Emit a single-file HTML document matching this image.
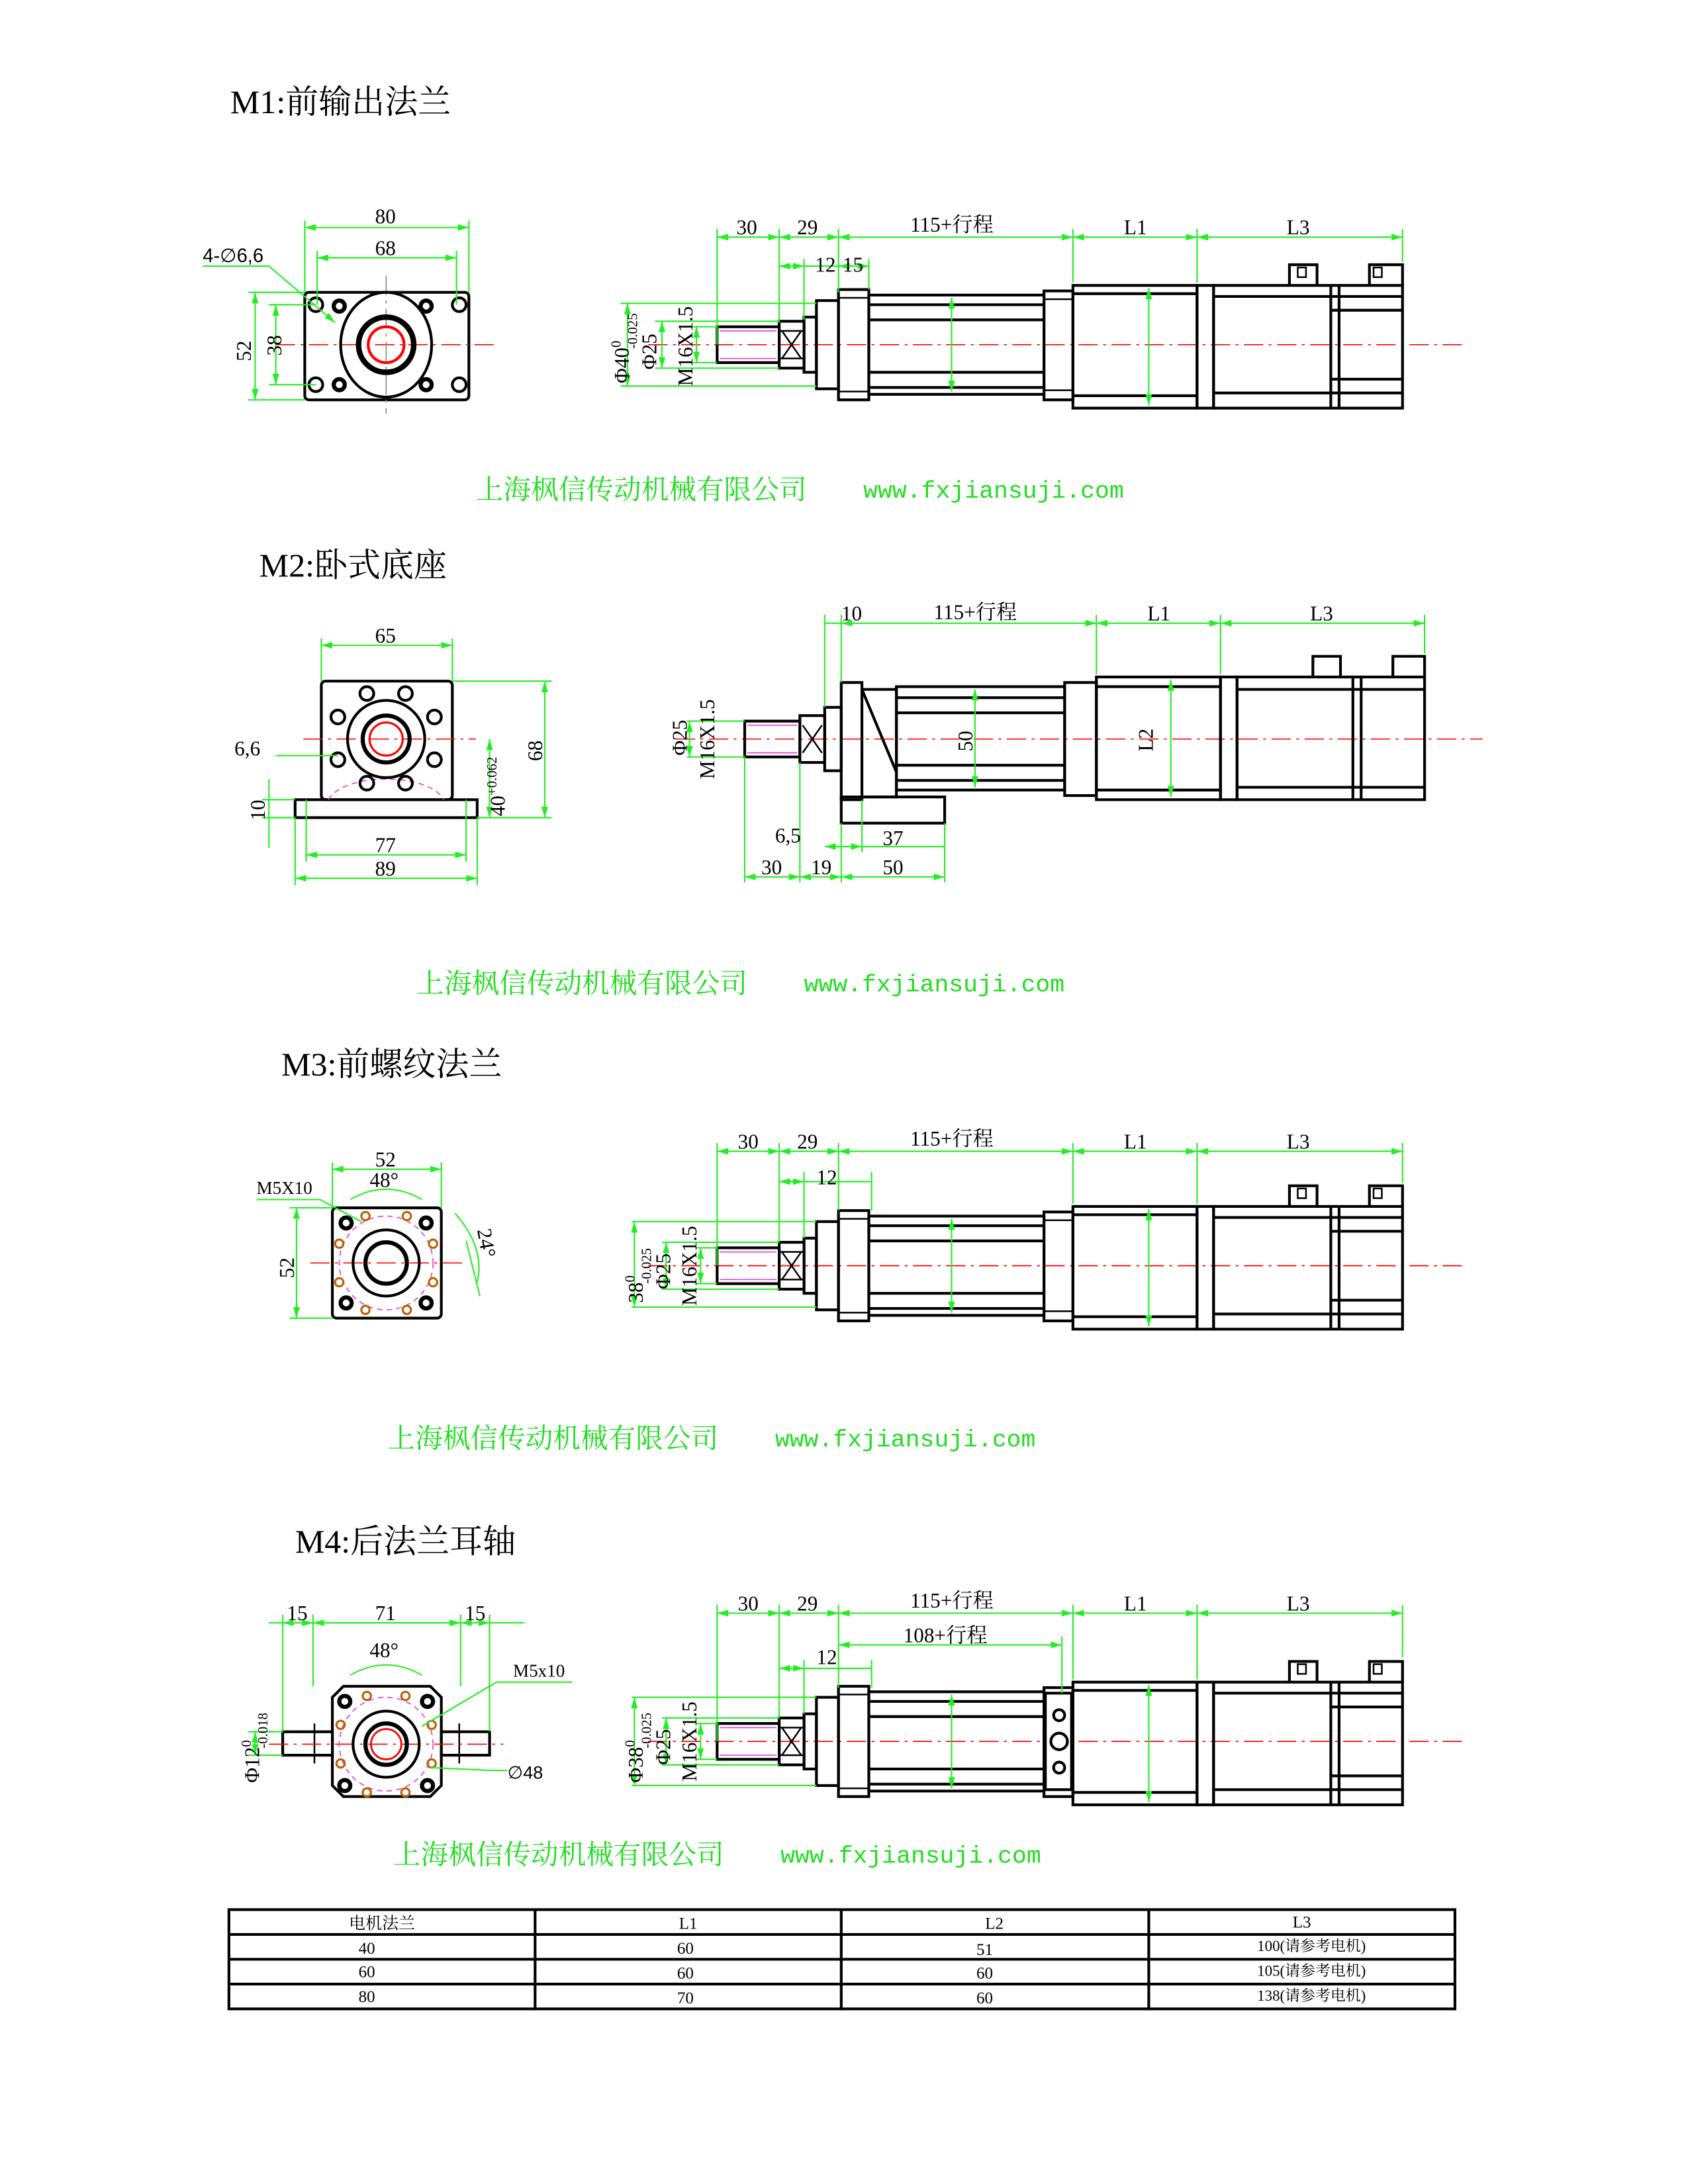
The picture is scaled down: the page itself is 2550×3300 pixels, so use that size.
<!DOCTYPE html>
<html><head><meta charset="utf-8"><style>
html,body{margin:0;padding:0;background:#fff}
svg{display:block}
text{font-family:"Liberation Serif","Noto Serif CJK SC",serif}
.k{fill:none;stroke:#000;stroke-width:2}
.kt{fill:none;stroke:#000;stroke-width:1.2}
.g{fill:none;stroke:#22ee22;stroke-width:1}
.r{fill:none;stroke:#f00;stroke-width:0.8;stroke-dasharray:14 4 2 4}
.m{stroke:#e040e0;stroke-width:0.8}
.t{font-size:15px;fill:#000}
.s{font-size:12px;fill:#000}
.h{font-size:24px;fill:#000}
.w{font-size:20px;fill:#22dd22}
.u{font-family:"Liberation Mono",monospace;font-size:17.5px;fill:#22dd22}
</style></head><body>
<svg width="2550" height="3300" viewBox="0 0 1224 1584" xmlns="http://www.w3.org/2000/svg">
<defs>
<marker id="a" viewBox="0 0 10 10" refX="10" refY="5" markerWidth="8" markerHeight="8" orient="auto-start-reverse"><path d="M0,2 L10,5 L0,8z" fill="#22ee22"/></marker>
<g id="side">
 <line class="r" x1="470" y1="0" x2="1060" y2="0"/>
 <rect class="k" x="520" y="-13" width="45" height="26"/>
 <line class="m" x1="522" y1="-10" x2="563" y2="-10"/><line class="m" x1="522" y1="10" x2="563" y2="10"/>
 <rect class="k" x="565" y="-17" width="18" height="34"/>
 <path class="kt" d="M567,-10 L581,10 M567,10 L581,-10 M565,-10 H583 M565,10 H583"/>
 <rect class="k" x="583" y="-20" width="9" height="40"/>
 <rect class="k" x="592" y="-32" width="16" height="64"/>
 <rect class="k" x="608" y="-40" width="22" height="80"/>
 <path class="kt" d="M608,-34 H630 M608,34 H630"/>
 <rect class="k" x="630" y="-36" width="127" height="72"/>
 <path class="k" d="M630,-29 H757 M630,-18 H757 M630,20 H757 M630,31 H757"/>
 <rect class="k" x="757" y="-39" width="21" height="79"/>
 <path class="kt" d="M757,-33 H778 M757,33 H778"/>
 <rect class="k" x="778" y="-43" width="90" height="89"/>
 <path class="k" d="M778,-37 H868 M778,37 H868"/>
 <rect class="k" x="868" y="-43" width="12" height="89"/>
 <rect class="k" x="880" y="-43" width="137" height="89"/>
 <path class="k" d="M880,-35 H1017 M880,35 H1017 M965,-43 V46 M971,-43 V46 M965,-25 H1017 M965,25 H1017"/>
 <path class="k" d="M935,-43 V-58 H955 V-43 M993,-43 V-58 H1017 V-43"/>
 <rect class="kt" x="941" y="-56" width="6" height="7"/><rect class="kt" x="996" y="-56" width="6" height="7"/>
 <line class="g" x1="690" y1="-34" x2="690" y2="34" marker-start="url(#a)" marker-end="url(#a)"/>
 <line class="g" x1="833" y1="-41" x2="833" y2="44" marker-start="url(#a)" marker-end="url(#a)"/>
</g>
</defs>

<!-- M1 -->
<text class="h" x="167" y="82">M1:前输出法兰</text>
<rect class="k" x="221" y="212" width="119" height="78" rx="3"/>
<line class="r" x1="200" y1="250" x2="362" y2="250"/><line class="r" x1="280" y1="200" x2="280" y2="300" style="stroke:#888"/>
<g class="k"><circle cx="229" cy="221" r="5"/><circle cx="333" cy="221" r="5"/><circle cx="229" cy="279" r="5"/><circle cx="333" cy="279" r="5"/></g>
<g class="k" style="stroke-width:3"><circle cx="246" cy="222" r="4"/><circle cx="309" cy="222" r="4"/><circle cx="246" cy="279" r="4"/><circle cx="309" cy="279" r="4"/></g>
<ellipse class="k" cx="280" cy="250" rx="33" ry="38"/>
<circle class="k" cx="280" cy="250" r="20" style="stroke-width:4"/>
<circle cx="280" cy="250" r="13" fill="none" stroke="#f00" stroke-width="2"/>
<line class="g" x1="221" y1="165" x2="340" y2="165" marker-start="url(#a)" marker-end="url(#a)"/>
<line class="g" x1="230" y1="187" x2="331" y2="187" marker-start="url(#a)" marker-end="url(#a)"/>
<path class="g" d="M221,160 V212 M340,160 V212 M230,182 V221 M331,182 V221"/>
<text class="t" x="272" y="162">80</text><text class="t" x="272" y="185">68</text>
<line class="g" x1="185" y1="212" x2="185" y2="290" marker-start="url(#a)" marker-end="url(#a)"/>
<line class="g" x1="200" y1="221" x2="200" y2="279" marker-start="url(#a)" marker-end="url(#a)"/>
<path class="g" d="M180,212 H221 M180,290 H221 M195,221 H229 M195,279 H229"/>
<text class="t" transform="translate(182,262) rotate(-90)">52</text><text class="t" transform="translate(204,258) rotate(-90)">38</text>
<text class="t" x="147" y="190" style="font-family:'Liberation Sans',sans-serif;font-size:14px">4-∅6,6</text>
<path class="g" d="M147,193 H195 L243,234" marker-end="url(#a)"/>

<use href="#side" y="250"/>
<path class="g" d="M520,166 V250 M565,166 V234 M608,166 V212 M778,166 V205 M868,166 V205 M1017,166 V190 M583,188 V232 M630,188 V210"/>
<line class="g" x1="520" y1="172" x2="565" y2="172" marker-start="url(#a)" marker-end="url(#a)"/>
<line class="g" x1="565" y1="172" x2="608" y2="172" marker-start="url(#a)" marker-end="url(#a)"/>
<line class="g" x1="608" y1="172" x2="778" y2="172" marker-start="url(#a)" marker-end="url(#a)"/>
<line class="g" x1="778" y1="172" x2="868" y2="172" marker-start="url(#a)" marker-end="url(#a)"/>
<line class="g" x1="868" y1="172" x2="1017" y2="172" marker-start="url(#a)" marker-end="url(#a)"/>
<text class="t" x="534" y="170">30</text><text class="t" x="578" y="170">29</text><text class="t" x="660" y="168">115+行程</text><text class="t" x="815" y="170">L1</text><text class="t" x="933" y="170">L3</text>
<line class="g" x1="565" y1="193" x2="583" y2="193" marker-start="url(#a)" marker-end="url(#a)"/>
<line class="g" x1="608" y1="193" x2="630" y2="193" marker-start="url(#a)" marker-end="url(#a)"/>
<line class="g" x1="583" y1="193" x2="608" y2="193"/>
<text class="t" x="591" y="197">12</text><text class="t" x="611" y="197">15</text>
<path class="g" d="M450,220 H592 M450,280 H592 M475,233 H565 M475,267 H565 M500,237 H520 M500,263 H520"/>
<line class="g" x1="455" y1="220" x2="455" y2="280" marker-start="url(#a)" marker-end="url(#a)"/>
<line class="g" x1="480" y1="233" x2="480" y2="267" marker-start="url(#a)" marker-end="url(#a)"/>
<line class="g" x1="505" y1="237" x2="505" y2="263" marker-start="url(#a)" marker-end="url(#a)"/>
<text class="t" transform="translate(456,278) rotate(-90)">Φ40<tspan font-size="10" dy="-6">0</tspan><tspan font-size="10" dx="-6" dy="12">-0.025</tspan></text>
<text class="t" transform="translate(476,268) rotate(-90)">Φ25</text>
<text class="t" transform="translate(502,280) rotate(-90)">M16X1.5</text>
<text class="w" x="345" y="362">上海枫信传动机械有限公司</text><text class="u" x="626" y="361">www.fxjiansuji.com</text>

<!-- M2 -->
<text class="h" x="188" y="418">M2:卧式底座</text>
<rect class="k" x="233" y="494" width="95" height="86" rx="3"/>
<rect class="k" x="214" y="580" width="132" height="13"/>
<line class="r" x1="220" y1="536" x2="345" y2="536"/>
<path d="M238,580 C250,560 310,560 322,580" fill="none" stroke="#e040e0" stroke-width="0.8" stroke-dasharray="4 3"/>
<g class="k"><circle cx="266" cy="503" r="5"/><circle cx="294" cy="503" r="5"/><circle cx="245" cy="520" r="5"/><circle cx="315" cy="520" r="5"/><circle cx="245" cy="551" r="5"/><circle cx="315" cy="551" r="5"/><circle cx="266" cy="568" r="5"/><circle cx="294" cy="568" r="5"/></g>
<circle class="k" cx="280" cy="536" r="28"/><circle class="k" cx="280" cy="536" r="17" style="stroke-width:3"/>
<circle cx="280" cy="536" r="12" fill="none" stroke="#f00" stroke-width="1.5"/>
<line class="g" x1="233" y1="468" x2="328" y2="468" marker-start="url(#a)" marker-end="url(#a)"/>
<path class="g" d="M233,463 V494 M328,463 V494 M328,494 H400 M346,593 H400 M338,580 V625 M222,580 V625 M214,593 V642 M346,593 V642 M190,580 H214 M190,593 H214 M200,548 H245"/>
<text class="t" x="272" y="466">65</text>
<line class="g" x1="395" y1="494" x2="395" y2="593" marker-start="url(#a)" marker-end="url(#a)"/>
<line class="g" x1="355" y1="536" x2="355" y2="593" marker-start="url(#a)" marker-end="url(#a)"/>
<text class="t" transform="translate(393,552) rotate(-90)">68</text>
<text class="t" transform="translate(366,592) rotate(-90)">40<tspan font-size="10" dy="-6">+0.062</tspan></text>
<line class="g" x1="222" y1="620" x2="338" y2="620" marker-start="url(#a)" marker-end="url(#a)"/>
<line class="g" x1="214" y1="637" x2="346" y2="637" marker-start="url(#a)" marker-end="url(#a)"/>
<text class="t" x="272" y="618">77</text><text class="t" x="272" y="635">89</text>
<line class="g" x1="195" y1="565" x2="195" y2="615"/>
<text class="t" transform="translate(192,595) rotate(-90)">10</text>
<text class="t" x="170" y="548">6,6</text>

<line class="r" x1="490" y1="536" x2="1075" y2="536"/>
<rect class="k" x="540" y="523" width="40" height="26"/>
<line class="m" x1="542" y1="526" x2="578" y2="526"/><line class="m" x1="542" y1="546" x2="578" y2="546"/>
<rect class="k" x="580" y="519" width="18" height="34"/><path class="kt" d="M582,526 L596,546 M582,546 L596,526"/>
<rect class="k" x="598" y="513" width="12" height="46"/>
<rect class="k" x="610" y="495" width="15" height="85"/>
<path class="k" d="M625,500 H650 V578 H625 M625,500 L650,560"/>
<rect class="k" x="610" y="578" width="75" height="19"/>
<rect class="k" x="650" y="498" width="122" height="75"/>
<path class="k" d="M650,506 H772 M650,517 H772 M650,555 H772 M650,566 H772"/>
<rect class="k" x="772" y="495" width="23" height="82"/>
<rect class="k" x="795" y="491" width="90" height="89"/>
<path class="k" d="M795,498 H885 M795,573 H885"/>
<rect class="k" x="885" y="491" width="12" height="89"/>
<rect class="k" x="897" y="491" width="136" height="89"/>
<path class="k" d="M897,500 H1033 M897,571 H1033 M981,491 V580 M987,491 V580 M952,491 V476 H972 V491 M1010,491 V476 H1033 V491"/>
<line class="g" x1="707" y1="500" x2="707" y2="571" marker-start="url(#a)" marker-end="url(#a)"/>
<line class="g" x1="849" y1="493" x2="849" y2="578" marker-start="url(#a)" marker-end="url(#a)"/>
<text class="t" transform="translate(705,545) rotate(-90)">50</text><text class="t" transform="translate(836,545) rotate(-90)">L2</text>
<path class="g" d="M598,446 V513 M610,446 V495 M795,446 V489 M885,446 V489 M1033,446 V474 M540,549 V640 M580,553 V640 M610,597 V640 M685,597 V640 M625,580 V618 M498,523 H540 M498,549 H540"/>
<line class="g" x1="598" y1="452" x2="610" y2="452"/>
<line class="g" x1="610" y1="452" x2="795" y2="452" marker-start="url(#a)" marker-end="url(#a)"/>
<line class="g" x1="795" y1="452" x2="885" y2="452" marker-start="url(#a)" marker-end="url(#a)"/>
<line class="g" x1="885" y1="452" x2="1033" y2="452" marker-start="url(#a)" marker-end="url(#a)"/>
<text class="t" x="610" y="450">10</text><text class="t" x="677" y="449">115+行程</text><text class="t" x="832" y="450">L1</text><text class="t" x="950" y="450">L3</text>
<line class="g" x1="540" y1="636" x2="580" y2="636" marker-start="url(#a)" marker-end="url(#a)"/>
<line class="g" x1="580" y1="636" x2="610" y2="636" marker-start="url(#a)" marker-end="url(#a)"/>
<line class="g" x1="610" y1="636" x2="685" y2="636" marker-start="url(#a)" marker-end="url(#a)"/>
<line class="g" x1="598" y1="614" x2="625" y2="614" marker-start="url(#a)" marker-end="url(#a)"/>
<line class="g" x1="625" y1="614" x2="685" y2="614"/>
<text class="t" x="552" y="634">30</text><text class="t" x="588" y="634">19</text><text class="t" x="640" y="634">50</text>
<text class="t" x="562" y="611">6,5</text><text class="t" x="640" y="613">37</text>
<line class="g" x1="500" y1="523" x2="500" y2="549" marker-start="url(#a)" marker-end="url(#a)"/>
<text class="t" transform="translate(498,548) rotate(-90)">Φ25</text>
<text class="t" transform="translate(518,565) rotate(-90)">M16X1.5</text>
<text class="w" x="302" y="720">上海枫信传动机械有限公司</text><text class="u" x="583" y="719">www.fxjiansuji.com</text>

<!-- M3 -->
<text class="h" x="204" y="780">M3:前螺纹法兰</text>
<rect class="k" x="241" y="876" width="79" height="80" rx="3"/>
<line class="r" x1="225" y1="916" x2="335" y2="916"/>
<circle cx="280" cy="916" r="34" fill="none" stroke="#e040e0" stroke-width="0.8" stroke-dasharray="4 3"/>
<g class="k" style="stroke-width:3"><circle cx="251" cy="887" r="4"/><circle cx="309" cy="887" r="4"/><circle cx="251" cy="945" r="4"/><circle cx="309" cy="945" r="4"/></g>
<g fill="none" stroke="#c06000" stroke-width="1.5"><circle cx="265" cy="882" r="3"/><circle cx="295" cy="882" r="3"/><circle cx="265" cy="950" r="3"/><circle cx="295" cy="950" r="3"/><circle cx="246" cy="902" r="3"/><circle cx="314" cy="902" r="3"/><circle cx="246" cy="930" r="3"/><circle cx="314" cy="930" r="3"/></g>
<circle class="k" cx="280" cy="916" r="24"/><circle class="k" cx="280" cy="916" r="15" style="stroke-width:3"/>
<path class="g" d="M241,843 V876 M320,843 V876 M210,876 H241 M210,956 H241 M338,900 L348,940"/>
<line class="g" x1="241" y1="848" x2="320" y2="848" marker-start="url(#a)" marker-end="url(#a)"/>
<line class="g" x1="215" y1="876" x2="215" y2="956" marker-start="url(#a)" marker-end="url(#a)"/>
<path class="g" d="M254,870 Q280,855 306,870"/>
<path class="g" d="M330,880 Q352,905 346,930"/>
<text class="t" x="272" y="846">52</text><text class="t" x="268" y="861">48°</text>
<text class="t" transform="translate(213,927) rotate(-90)">52</text>
<text class="t" transform="translate(346,892) rotate(80)">24°</text>
<text class="s" x="186" y="866" style="font-size:13px">M5X10</text>
<path class="g" d="M186,870 H232 L262,886"/>

<use href="#side" y="918"/>
<path class="g" d="M520,829 V918 M565,829 V901 M608,829 V878 M778,829 V873 M868,829 V873 M1017,829 V858 M583,850 V898 M632,850 V878"/>
<line class="g" x1="520" y1="835" x2="565" y2="835" marker-start="url(#a)" marker-end="url(#a)"/>
<line class="g" x1="565" y1="835" x2="608" y2="835" marker-start="url(#a)" marker-end="url(#a)"/>
<line class="g" x1="608" y1="835" x2="778" y2="835" marker-start="url(#a)" marker-end="url(#a)"/>
<line class="g" x1="778" y1="835" x2="868" y2="835" marker-start="url(#a)" marker-end="url(#a)"/>
<line class="g" x1="868" y1="835" x2="1017" y2="835" marker-start="url(#a)" marker-end="url(#a)"/>
<text class="t" x="535" y="833">30</text><text class="t" x="578" y="833">29</text><text class="t" x="660" y="831">115+行程</text><text class="t" x="815" y="833">L1</text><text class="t" x="933" y="833">L3</text>
<line class="g" x1="565" y1="857" x2="583" y2="857" marker-start="url(#a)" marker-end="url(#a)"/>
<line class="g" x1="583" y1="857" x2="632" y2="857"/>
<text class="t" x="592" y="859">12</text>
<path class="g" d="M458,886 H592 M458,948 H592 M480,901 H565 M480,935 H565 M505,905 H520 M505,931 H520"/>
<line class="g" x1="460" y1="886" x2="460" y2="948" marker-start="url(#a)" marker-end="url(#a)"/>
<line class="g" x1="483" y1="901" x2="483" y2="935" marker-start="url(#a)" marker-end="url(#a)"/>
<line class="g" x1="508" y1="905" x2="508" y2="931" marker-start="url(#a)" marker-end="url(#a)"/>
<text class="t" transform="translate(466,945) rotate(-90)">38<tspan font-size="10" dy="-6">0</tspan><tspan font-size="10" dx="-6" dy="12">-0.025</tspan></text>
<text class="t" transform="translate(486,935) rotate(-90)">Φ25</text>
<text class="t" transform="translate(505,947) rotate(-90)">M16X1.5</text>
<text class="w" x="281" y="1050">上海枫信传动机械有限公司</text><text class="u" x="562" y="1049">www.fxjiansuji.com</text>

<!-- M4 -->
<text class="h" x="214" y="1126">M4:后法兰耳轴</text>
<path class="k" d="M249,1223 H312 L320,1231 V1295 L312,1303 H249 L241,1295 V1231 Z"/>
<rect class="k" x="205" y="1256" width="36" height="17"/>
<rect class="k" x="320" y="1256" width="35" height="17"/>
<path class="kt" d="M228,1250 V1279 M333,1250 V1279"/>
<line class="r" x1="195" y1="1265" x2="365" y2="1265"/>
<circle cx="280" cy="1265" r="34" fill="none" stroke="#e040e0" stroke-width="0.8" stroke-dasharray="4 3"/>
<g class="k" style="stroke-width:3"><circle cx="250" cy="1234" r="4"/><circle cx="310" cy="1234" r="4"/><circle cx="250" cy="1295" r="4"/><circle cx="310" cy="1295" r="4"/></g>
<g fill="none" stroke="#c06000" stroke-width="1.5"><circle cx="266" cy="1230" r="3"/><circle cx="294" cy="1230" r="3"/><circle cx="266" cy="1300" r="3"/><circle cx="294" cy="1300" r="3"/><circle cx="247" cy="1251" r="3"/><circle cx="313" cy="1251" r="3"/><circle cx="247" cy="1279" r="3"/><circle cx="313" cy="1279" r="3"/></g>
<circle class="k" cx="280" cy="1265" r="24"/><circle class="k" cx="280" cy="1265" r="15" style="stroke-width:3"/>
<circle cx="280" cy="1265" r="11" fill="none" stroke="#f00" stroke-width="1.3"/>
<path class="g" d="M205,1171 V1256 M227,1171 V1223 M334,1171 V1223 M355,1171 V1256 M180,1256 H205 M180,1273 H205"/>
<line class="g" x1="195" y1="1177" x2="380" y2="1177"/>
<line class="g" x1="205" y1="1177" x2="227" y2="1177" marker-start="url(#a)" marker-end="url(#a)"/>
<line class="g" x1="227" y1="1177" x2="334" y2="1177" marker-start="url(#a)" marker-end="url(#a)"/>
<line class="g" x1="334" y1="1177" x2="355" y2="1177" marker-start="url(#a)" marker-end="url(#a)"/>
<text class="t" x="208" y="1175">15</text><text class="t" x="272" y="1175">71</text><text class="t" x="337" y="1175">15</text>
<path class="g" d="M254,1215 Q280,1200 306,1215"/>
<text class="t" x="268" y="1202">48°</text>
<text class="t" x="372" y="1216" style="font-size:13px">M5x10</text>
<path class="g" d="M415,1220 H360 L306,1252"/>
<text class="t" x="368" y="1290" style="font-family:'Liberation Sans',sans-serif;font-size:13px">∅48</text>
<path class="g" d="M368,1284 H355 L312,1282"/>
<line class="g" x1="185" y1="1256" x2="185" y2="1273" marker-start="url(#a)" marker-end="url(#a)"/>
<text class="t" transform="translate(188,1293) rotate(-90)">Φ12<tspan font-size="10" dy="-6">0</tspan><tspan font-size="10" dx="-6" dy="12">-0.018</tspan></text>

<use href="#side" y="1263"/>
<rect x="758" y="1228" width="19" height="70" fill="#fff" stroke="#000" stroke-width="2"/>
<g class="k"><circle cx="768" cy="1244" r="4"/><circle cx="768" cy="1263" r="6"/><circle cx="768" cy="1282" r="4"/></g>
<path class="g" d="M520,1164 V1263 M565,1164 V1246 M608,1164 V1224 M778,1164 V1218 M868,1164 V1218 M1017,1164 V1202 M583,1204 V1243 M770,1187 V1228 M632,1204 V1224"/>
<line class="g" x1="520" y1="1170" x2="565" y2="1170" marker-start="url(#a)" marker-end="url(#a)"/>
<line class="g" x1="565" y1="1170" x2="608" y2="1170" marker-start="url(#a)" marker-end="url(#a)"/>
<line class="g" x1="608" y1="1170" x2="778" y2="1170" marker-start="url(#a)" marker-end="url(#a)"/>
<line class="g" x1="778" y1="1170" x2="868" y2="1170" marker-start="url(#a)" marker-end="url(#a)"/>
<line class="g" x1="868" y1="1170" x2="1017" y2="1170" marker-start="url(#a)" marker-end="url(#a)"/>
<text class="t" x="535" y="1168">30</text><text class="t" x="578" y="1168">29</text><text class="t" x="660" y="1166">115+行程</text><text class="t" x="815" y="1168">L1</text><text class="t" x="933" y="1168">L3</text>
<line class="g" x1="608" y1="1193" x2="770" y2="1193" marker-start="url(#a)" marker-end="url(#a)"/>
<text class="t" x="655" y="1191">108+行程</text>
<line class="g" x1="565" y1="1210" x2="583" y2="1210" marker-start="url(#a)" marker-end="url(#a)"/>
<line class="g" x1="583" y1="1210" x2="632" y2="1210"/>
<text class="t" x="592" y="1207">12</text>
<path class="g" d="M458,1231 H592 M458,1295 H592 M480,1246 H565 M480,1280 H565 M505,1250 H520 M505,1276 H520"/>
<line class="g" x1="460" y1="1231" x2="460" y2="1295" marker-start="url(#a)" marker-end="url(#a)"/>
<line class="g" x1="483" y1="1246" x2="483" y2="1280" marker-start="url(#a)" marker-end="url(#a)"/>
<line class="g" x1="508" y1="1250" x2="508" y2="1276" marker-start="url(#a)" marker-end="url(#a)"/>
<text class="t" transform="translate(466,1293) rotate(-90)">Φ38<tspan font-size="10" dy="-6">0</tspan><tspan font-size="10" dx="-6" dy="12">-0.025</tspan></text>
<text class="t" transform="translate(486,1280) rotate(-90)">Φ25</text>
<text class="t" transform="translate(505,1292) rotate(-90)">M16X1.5</text>
<text class="w" x="285" y="1352">上海枫信传动机械有限公司</text><text class="u" x="566" y="1351">www.fxjiansuji.com</text>

<!-- table -->
<g fill="none" stroke="#000" stroke-width="2">
<rect x="166" y="1385" width="889" height="72"/>
<path d="M166,1403 H1055 M166,1421 H1055 M166,1439 H1055 M388,1385 V1457 M610,1385 V1457 M833,1385 V1457"/>
</g>
<g class="s" text-anchor="middle">
<text x="277" y="1399">电机法兰</text><text x="499" y="1399">L1</text><text x="721" y="1399">L2</text><text x="944" y="1398">L3</text>
<text x="266" y="1417">40</text><text x="497" y="1417">60</text><text x="714" y="1418">51</text><text x="951" y="1415" style="font-size:11px">100(请参考电机)</text>
<text x="266" y="1434">60</text><text x="497" y="1435">60</text><text x="714" y="1435">60</text><text x="951" y="1433" style="font-size:11px">105(请参考电机)</text>
<text x="266" y="1452">80</text><text x="497" y="1453">70</text><text x="714" y="1453">60</text><text x="951" y="1451" style="font-size:11px">138(请参考电机)</text>
</g>
</svg>
</body></html>
